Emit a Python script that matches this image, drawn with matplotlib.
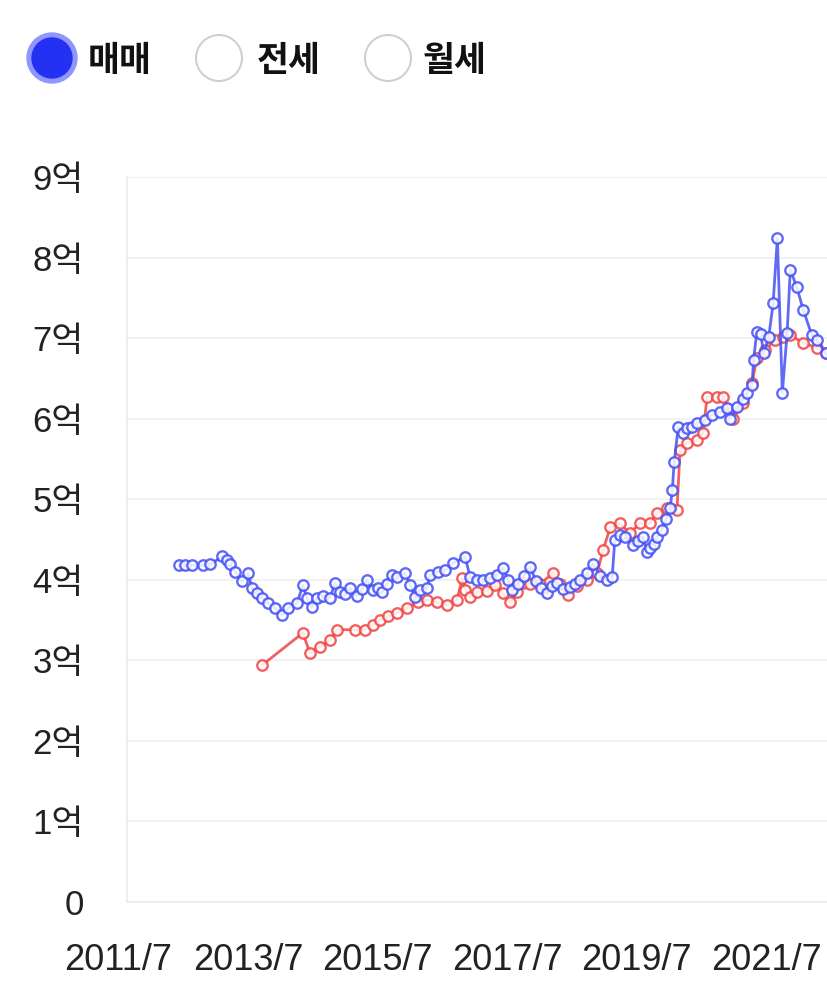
import matplotlib.pyplot as plt
import matplotlib.dates as mdates
import matplotlib.transforms as mtransforms
from matplotlib.patches import Circle
import pandas as pd

# 매매 (sale) transactions, price in 억 won
sale_dates = [
    '2012-06-07', '2012-07-10', '2012-08-19', '2012-10-20', '2012-11-29',
    '2013-02-06', '2013-03-04', '2013-03-20', '2013-04-18', '2013-05-27',
    '2013-07-01', '2013-07-23', '2013-08-20', '2013-09-18', '2013-10-21',
    '2013-12-01', '2014-01-10', '2014-02-13', '2014-04-03', '2014-05-06',
    '2014-05-28', '2014-06-26', '2014-07-25', '2014-08-28', '2014-10-07',
    '2014-11-04', '2014-12-02', '2014-12-30', '2015-01-28', '2015-03-07',
    '2015-04-05', '2015-05-02', '2015-06-06', '2015-07-03', '2015-07-26',
    '2015-08-24', '2015-09-21', '2015-10-19', '2015-12-04', '2016-01-02',
    '2016-01-30', '2016-02-27', '2016-04-06', '2016-04-23', '2016-06-07',
    '2016-07-16', '2016-08-31', '2016-11-07', '2016-12-05', '2017-01-14',
    '2017-02-17', '2017-03-27', '2017-05-05', '2017-06-08', '2017-07-06',
    '2017-07-29', '2017-09-02', '2017-10-05', '2017-11-08', '2017-12-12',
    '2018-01-10', '2018-02-13', '2018-03-11', '2018-04-09', '2018-05-12',
    '2018-06-21', '2018-07-19', '2018-08-17', '2018-09-26', '2018-10-29',
    '2018-12-08', '2019-01-17', '2019-02-14', '2019-03-01', '2019-03-29',
    '2019-04-27', '2019-06-11', '2019-07-09', '2019-08-07', '2019-08-29',
    '2019-09-15', '2019-10-08', '2019-10-25', '2019-11-22', '2019-12-15',
    '2020-01-07', '2020-01-19', '2020-01-30', '2020-02-22', '2020-03-19',
    '2020-04-12', '2020-05-10', '2020-06-07', '2020-07-21', '2020-09-01',
    '2020-10-15', '2020-11-25', '2020-12-10', '2021-01-19', '2021-02-22',
    '2021-03-14', '2021-04-13', '2021-04-22', '2021-05-10', '2021-06-01',
    '2021-06-18', '2021-07-16', '2021-08-10', '2021-09-03', '2021-10-01',
    '2021-10-28', '2021-11-15', '2021-12-22', '2022-01-27', '2022-03-16',
    '2022-04-13', '2022-06-03', '2022-07-20',
]
sale_prices = [
    4.18, 4.18, 4.18, 4.18, 4.19,
    4.29, 4.24, 4.19, 4.10, 3.98,
    4.08, 3.90, 3.84, 3.78, 3.71,
    3.65, 3.56, 3.65, 3.71, 3.93,
    3.78, 3.66, 3.78, 3.80, 3.78,
    3.96, 3.85, 3.82, 3.90, 3.80,
    3.88, 4.00, 3.87, 3.90, 3.85,
    3.95, 4.06, 4.03, 4.08, 3.93,
    3.79, 3.87, 3.90, 4.06, 4.10,
    4.12, 4.21, 4.28, 4.03, 4.00,
    4.00, 4.02, 4.06, 4.15, 4.00,
    3.87, 3.95, 4.05, 4.16, 3.98,
    3.90, 3.83, 3.92, 3.96, 3.88,
    3.91, 3.95, 4.00, 4.08, 4.20,
    4.05, 4.00, 4.03, 4.50, 4.55,
    4.53, 4.43, 4.48, 4.53, 4.35,
    4.40, 4.45, 4.53, 4.62, 4.75,
    4.89, 5.11, 5.46, 5.90, 5.82,
    5.88, 5.90, 5.95, 5.98, 6.05,
    6.08, 6.13, 6.00, 6.14, 6.25,
    6.32, 6.42, 6.73, 7.08, 7.05,
    6.81, 7.01, 7.43, 8.24, 6.32,
    7.06, 7.85, 7.63, 7.35, 7.04,
    6.98, 6.81, 6.70,
]

# second series (red)
lease_dates = [
    '2013-09-18', '2014-05-06', '2014-06-15', '2014-08-10', '2014-10-07',
    '2014-11-16', '2015-02-25', '2015-04-22', '2015-06-06', '2015-07-16',
    '2015-08-28', '2015-10-19', '2015-12-16', '2016-02-12', '2016-04-06',
    '2016-06-01', '2016-07-27', '2016-09-22', '2016-10-21', '2016-11-07',
    '2016-12-05', '2017-01-14', '2017-03-10', '2017-04-25', '2017-06-08',
    '2017-07-18', '2017-08-28', '2017-10-01', '2017-11-08', '2018-01-04',
    '2018-03-16', '2018-04-25', '2018-06-10', '2018-08-01', '2018-09-26',
    '2018-11-21', '2018-12-25', '2019-02-03', '2019-03-28', '2019-05-24',
    '2019-07-21', '2019-09-15', '2019-10-25', '2019-12-21', '2020-02-15',
    '2020-03-03', '2020-04-12', '2020-06-07', '2020-07-10', '2020-08-03',
    '2020-09-28', '2020-11-01', '2020-12-28', '2021-02-22', '2021-04-13',
    '2021-05-10', '2021-06-25', '2021-08-22', '2021-10-06', '2021-11-15',
    '2022-01-27', '2022-04-13', '2022-06-03', '2022-07-20',
]
lease_prices = [
    2.94, 3.34, 3.09, 3.17, 3.25,
    3.38, 3.38, 3.38, 3.44, 3.50,
    3.55, 3.59, 3.65, 3.72, 3.75,
    3.72, 3.69, 3.75, 4.02, 3.87,
    3.79, 3.85, 3.86, 3.93, 3.83,
    3.72, 3.85, 3.96, 3.95, 3.95,
    4.08, 3.95, 3.81, 3.92, 4.00,
    4.08, 4.37, 4.65, 4.70, 4.58,
    4.70, 4.70, 4.83, 4.89, 4.87,
    5.61, 5.70, 5.73, 5.82, 6.27,
    6.27, 6.27, 6.00, 6.20, 6.44,
    6.75, 6.85, 6.98, 7.01, 7.04,
    6.94, 6.88, 6.81, 6.72,
]

y_ticks = [0, 1, 2, 3, 4, 5, 6, 7, 8, 9]
y_tick_labels = ['0', '1억', '2억', '3억', '4억', '5억', '6억', '7억', '8억', '9억']
x_tick_dates = ['2011-07-01', '2013-07-01', '2015-07-01', '2017-07-01', '2019-07-01', '2021-07-01']
x_tick_labels = ['2011/7', '2013/7', '2015/7', '2017/7', '2019/7', '2021/7']
legend_labels = ['매매', '전세', '월세']

FONTS = ['Liberation Sans', 'Noto Sans CJK KR', 'DejaVu Sans']

fig = plt.figure(figsize=(8.27, 10.02), dpi=100)
ax = fig.add_axes([127 / 827, 100 / 1002, 700 / 827, 725 / 1002])

ax.plot(pd.to_datetime(lease_dates), lease_prices, color='#f04545', alpha=0.85,
        lw=2, marker='o', ms=7.5, mfc='white', mec='#f04545', mew=1.7)
ax.plot(pd.to_datetime(sale_dates), sale_prices, color='#4450f5', alpha=0.85,
        lw=2, marker='o', ms=7.5, mfc='white', mec='#4450f5', mew=1.7)

ax.set_ylim(0, 9)
ax.set_xlim(pd.Timestamp('2011-08-18'), pd.Timestamp('2022-06-10'))
ax.set_yticks(y_ticks)
ax.set_yticklabels(y_tick_labels, fontfamily=FONTS, fontsize=25, color='#222222')
ax.tick_params(axis='y', length=0, pad=31)
ax.set_xticks([])
ax.grid(axis='y', color='#f0f0f0', lw=1.2)
ax.set_axisbelow(True)
for s in ['top', 'right']:
    ax.spines[s].set_visible(False)
for s in ['left', 'bottom']:
    ax.spines[s].set_color('#ebebeb')
    ax.spines[s].set_linewidth(1.2)

# x labels sit slightly left of the axis start
trans = mtransforms.blended_transform_factory(ax.transData, ax.transAxes)
for d, lab in zip(x_tick_dates, x_tick_labels):
    ax.text(mdates.date2num(pd.Timestamp(d)), -0.08, lab, transform=trans,
            ha='center', va='center', fontsize=26, family=FONTS,
            color='#222222', clip_on=False)

# radio-button style legend (pixel coordinates)
pix = mtransforms.IdentityTransform()
H = 1002
fig.add_artist(Circle((52, H - 58), 25, transform=pix, color='#8f96ff'))
fig.add_artist(Circle((52, H - 58), 20, transform=pix, color='#2430f2'))
for cx in [219, 388]:
    fig.add_artist(Circle((cx, H - 58), 23, transform=pix, facecolor='white',
                          edgecolor='#d0d0d0', lw=1.5))
for tx, lab in zip([88, 257, 423], legend_labels):
    fig.text(tx / 827, 1 - 60 / H, lab, ha='left', va='center', fontsize=25,
             fontweight='black', family=['Noto Sans CJK KR'], color='#111111')

fig.savefig('out.png', dpi=100)
